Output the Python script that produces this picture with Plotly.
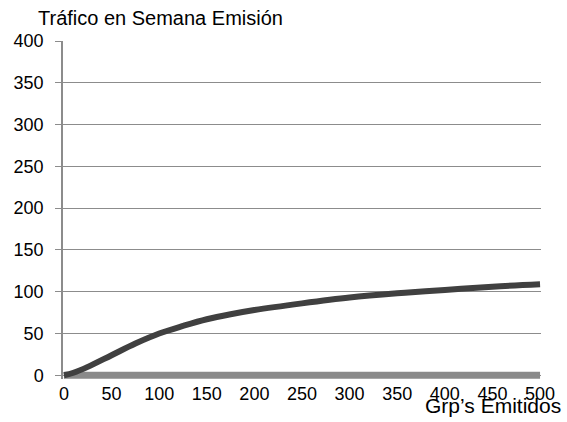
import plotly.graph_objects as go

grp = [0, 10, 25, 50, 75, 100, 125, 150, 175, 200, 250, 300, 350, 400, 450, 500]
trafico = [0, 3, 10, 24, 38, 50, 59, 67, 73, 78, 86, 93, 98, 102, 106, 109]
base_x = [0, 500]
base_y = [0, 0]
y_ticks = [0, 50, 100, 150, 200, 250, 300, 350, 400]
x_ticks = [0, 50, 100, 150, 200, 250, 300, 350, 400, 450, 500]
y_title = "Tráfico en Semana Emisión"
x_title = "Grp’s Emitidos"

fig = go.Figure()
fig.add_trace(go.Scatter(x=base_x, y=base_y, mode="lines",
                         line=dict(color="#8a8a8a", width=7), hoverinfo="skip"))
fig.add_trace(go.Scatter(x=grp, y=trafico, mode="lines",
                         line=dict(color="#404040", width=6, shape="spline")))

font = "Liberation Sans, Arial, sans-serif"
fig.update_layout(
    width=567, height=422,
    margin=dict(l=63, r=22, t=41, b=43),
    paper_bgcolor="white", plot_bgcolor="white",
    showlegend=False,
    font=dict(family=font, size=18, color="black"),
    xaxis=dict(range=[-1, 501], tickvals=x_ticks, showgrid=False, zeroline=False,
               showline=False, ticks="", ticklabelstandoff=2, tickfont=dict(size=18)),
    yaxis=dict(range=[-4.5, 400], tickvals=y_ticks, showgrid=True, gridcolor="#8c8c8c",
               gridwidth=1.3, zeroline=False, showline=True, linecolor="#8c8c8c",
               linewidth=1.5, ticks="outside", ticklen=6, tickcolor="#8c8c8c",
               tickwidth=1.3, ticklabelstandoff=8, tickfont=dict(size=18)),
    annotations=[
        dict(text=y_title, xref="paper", yref="paper", x=-0.056, y=1.0, yshift=23,
             xanchor="left", yanchor="middle", showarrow=False, font=dict(size=20)),
        dict(text=x_title, xref="paper", yref="paper", x=1.0, y=0, xshift=22, yshift=-26,
             xanchor="right", yanchor="middle", showarrow=False, font=dict(size=21)),
    ],
)
fig.write_html("out.html")
